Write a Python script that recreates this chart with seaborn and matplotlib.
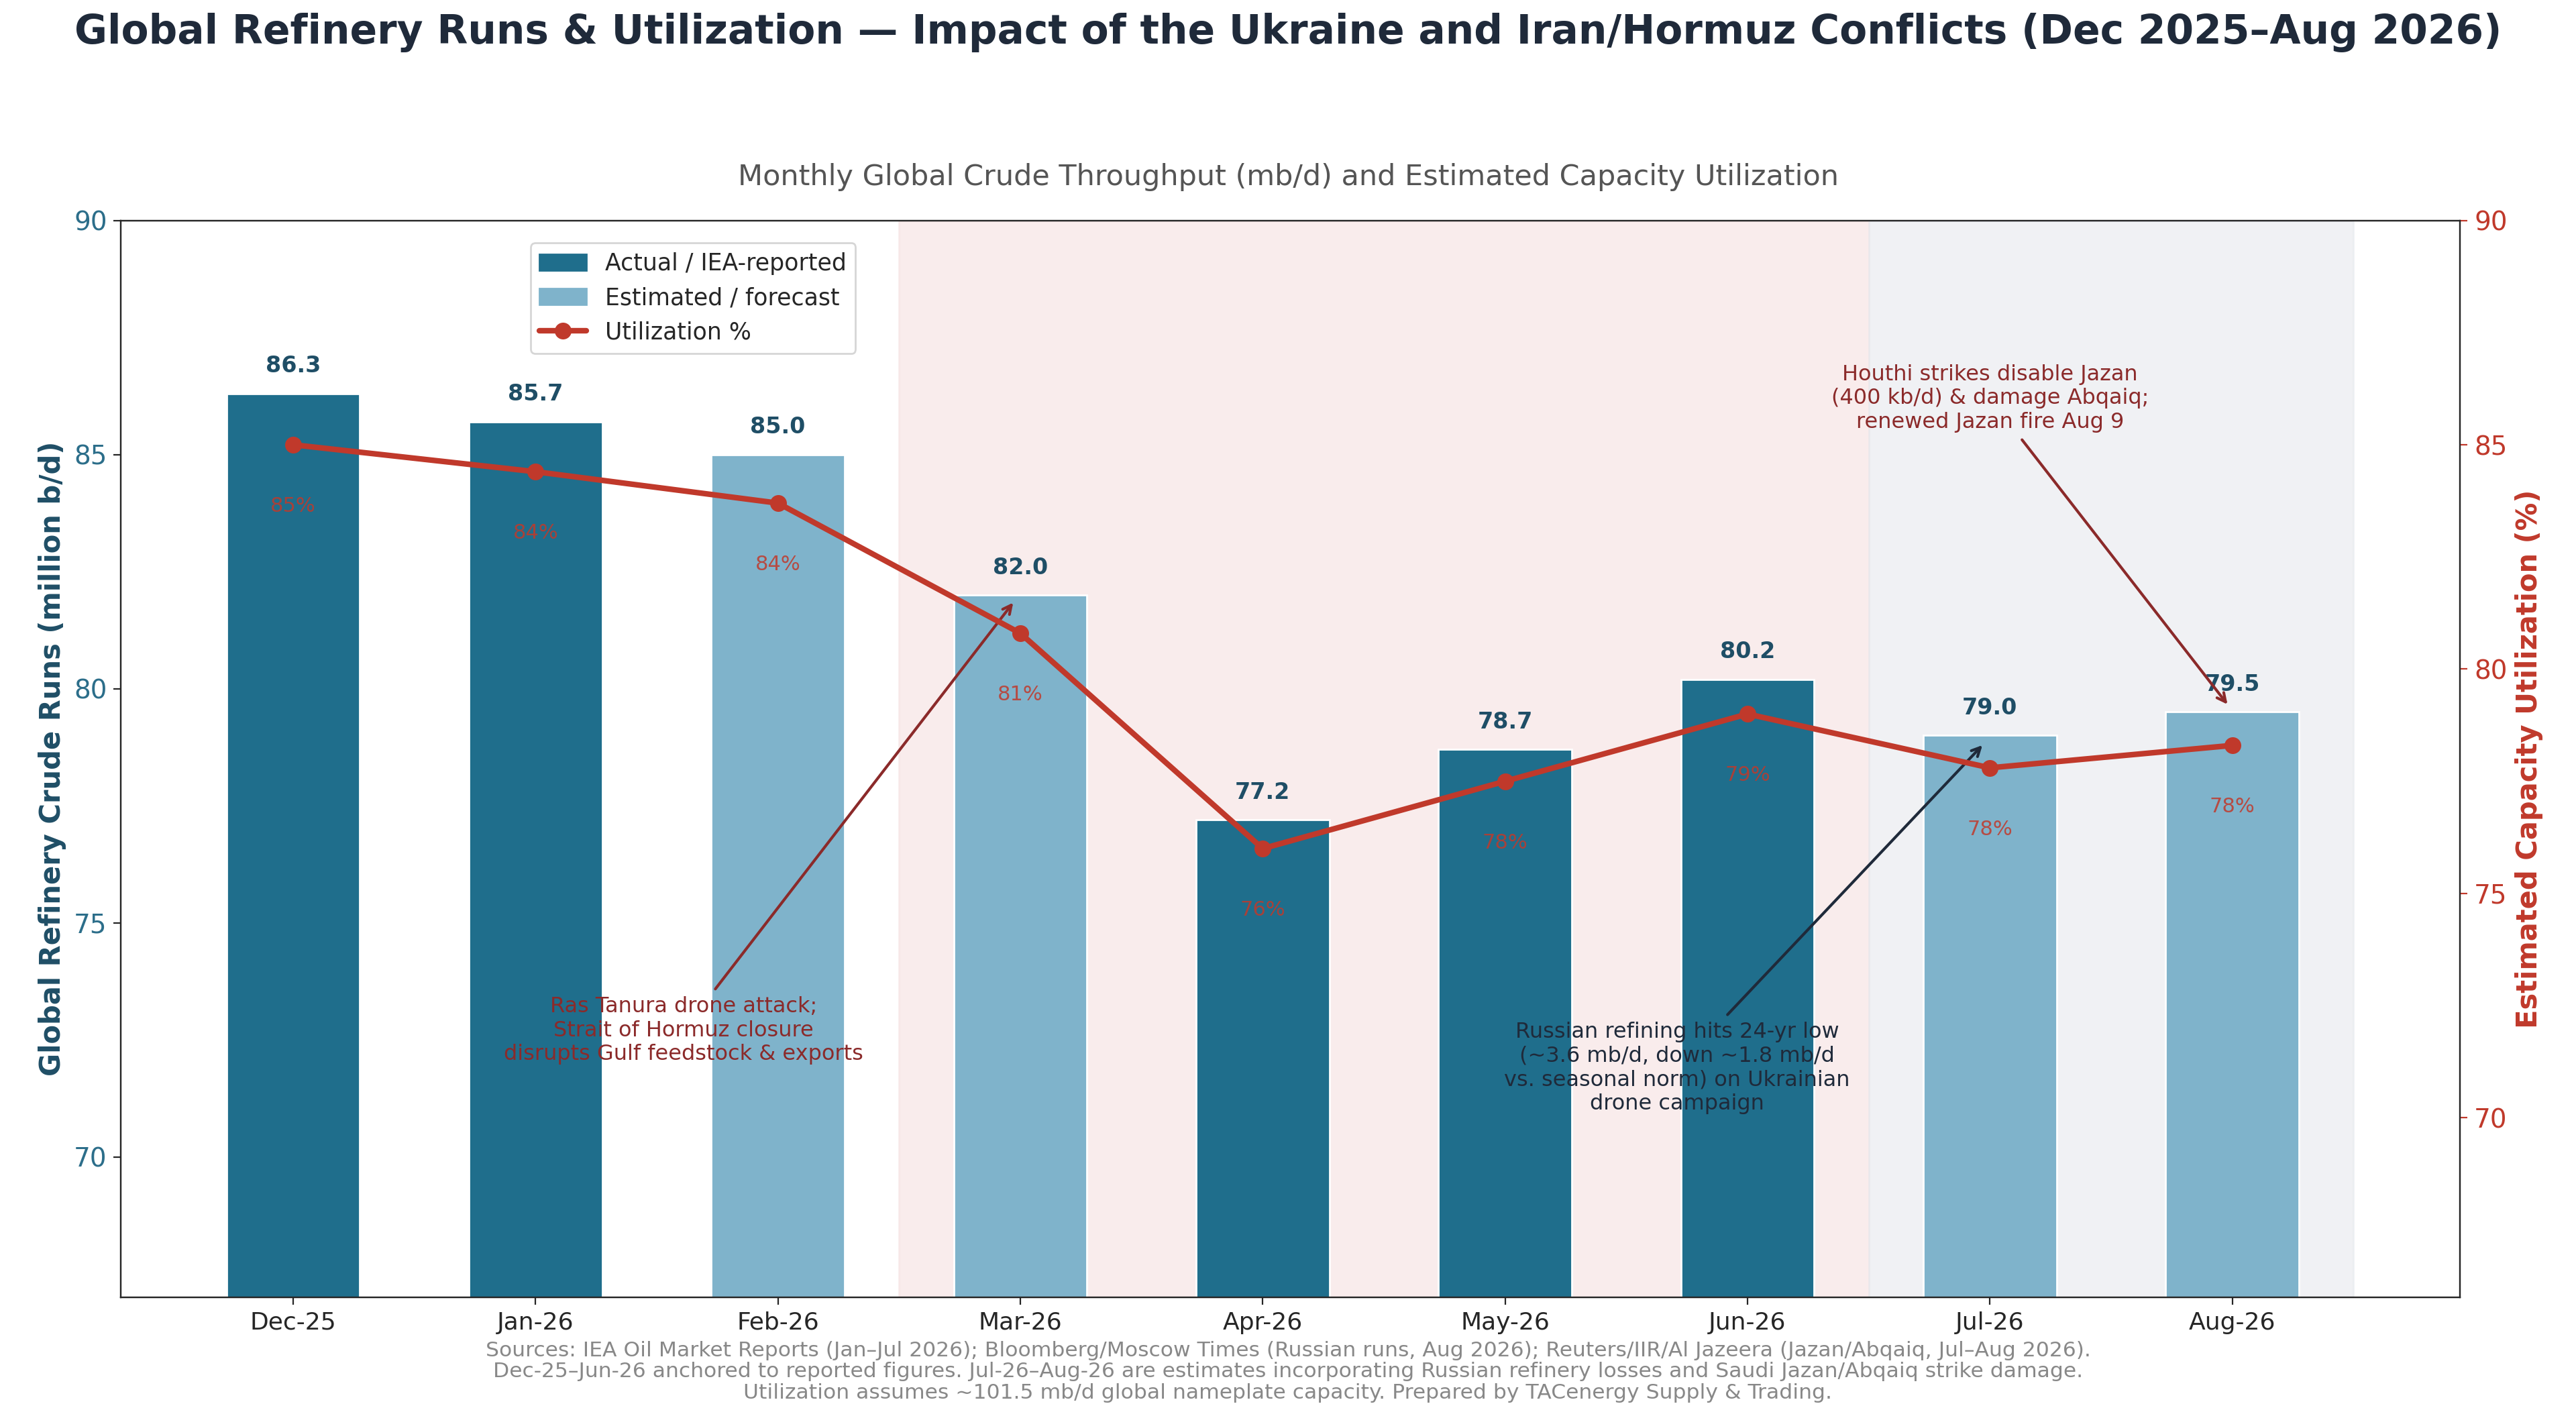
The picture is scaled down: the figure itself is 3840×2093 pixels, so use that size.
import matplotlib
matplotlib.use('Agg')
import numpy as np
import pandas as pd
import matplotlib.pyplot as plt
import seaborn as sns
from matplotlib.patches import Patch
from matplotlib.lines import Line2D

sns.set_style('white')
plt.rcParams['font.family'] = ['DejaVu Sans']

# Data
months = ['Dec-25', 'Jan-26', 'Feb-26', 'Mar-26', 'Apr-26', 'May-26', 'Jun-26', 'Jul-26', 'Aug-26']
runs = [86.3, 85.7, 85.0, 82.0, 77.2, 78.7, 80.2, 79.0, 79.5]
kind = ['Actual', 'Actual', 'Estimated', 'Estimated', 'Actual', 'Actual', 'Actual', 'Estimated', 'Estimated']
util = [85.0, 84.4, 83.7, 80.8, 76.0, 77.5, 79.0, 77.8, 78.3]

dark = '#1f6e8c'
light = '#7fb3cb'
red = '#c0392b'

df = pd.DataFrame({'month': months, 'runs': runs, 'kind': kind})

fig = plt.figure(figsize=(19.2, 10.465), dpi=200)
ax = fig.add_axes([0.047, 0.076, 0.908, 0.767])

ax.axvspan(2.5, 6.5, color='#f7e4e4', alpha=0.7, zorder=0)
ax.axvspan(6.5, 8.5, color='#e6e9ee', alpha=0.6, zorder=0)

sns.barplot(data=df, x='month', y='runs', hue='kind', palette={'Actual': dark, 'Estimated': light},
            dodge=False, width=0.55, saturation=1, ax=ax, legend=False, zorder=2)
for i, v in enumerate(runs):
    ax.text(i, v + 0.35, f'{v:.1f}', ha='center', va='bottom', fontsize=12, fontweight='bold', color='#1f4e66')

ax.set_ylim(67, 90)
ax.set_xlim(-0.71, 8.94)
ax.set_yticks([70, 75, 80, 85, 90])
ax.set_xlabel('')
ax.set_ylabel('Global Refinery Crude Runs (million b/d)', fontsize=15, fontweight='bold', color='#1f4e66')
ax.tick_params(axis='y', labelsize=14, labelcolor='#2c6e8a', length=4, left=True)
ax.tick_params(axis='x', labelsize=13, length=4, bottom=True)
for s in ax.spines.values():
    s.set_color('#222222')

ax2 = ax.twinx()
ax2.plot(range(len(months)), util, color=red, lw=3, marker='o', ms=8, zorder=5)
for i, u in enumerate(util):
    ax2.text(i, u - 1.15, f'{u:.0f}%', ha='center', va='top', fontsize=11, color=red, alpha=0.85)
ax2.set_ylim(66, 90)
ax2.set_yticks([70, 75, 80, 85, 90])
ax2.set_ylabel('Estimated Capacity Utilization (%)', fontsize=15, fontweight='bold', color=red)
ax2.tick_params(axis='y', labelsize=14, labelcolor=red, colors=red, length=4, right=True)

handles = [Patch(color=dark, label='Actual / IEA-reported'),
           Patch(color=light, label='Estimated / forecast'),
           Line2D([], [], color=red, lw=3, marker='o', ms=8, label='Utilization %')]
ax.legend(handles=handles, loc='upper left', bbox_to_anchor=(0.17, 0.99), fontsize=12.5, frameon=True)

ax.annotate('Ras Tanura drone attack;\nStrait of Hormuz closure\ndisrupts Gulf feedstock & exports',
            xy=(2.98, 81.9), xytext=(1.61, 72.7), ha='center', va='center', fontsize=11.5, color='#8b2a2a',
            arrowprops=dict(arrowstyle='->', color='#8b2a2a', lw=1.5), zorder=6)
ax.annotate('Russian refining hits 24-yr low\n(~3.6 mb/d, down ~1.8 mb/d\nvs. seasonal norm) on Ukrainian\ndrone campaign',
            xy=(6.98, 78.85), xytext=(5.71, 71.9), ha='center', va='center', fontsize=11.5, color='#1f2a3a',
            arrowprops=dict(arrowstyle='->', color='#1f2a3a', lw=1.5), zorder=6)
ax.annotate('Houthi strikes disable Jazan\n(400 kb/d) & damage Abqaiq;\nrenewed Jazan fire Aug 9',
            xy=(7.99, 79.6), xytext=(7.0, 86.2), ha='center', va='center', fontsize=11.5, color='#8b2a2a',
            arrowprops=dict(arrowstyle='->', color='#8b2a2a', lw=1.5), zorder=6)

fig.text(0.5, 0.977, 'Global Refinery Runs & Utilization \u2014 Impact of the Ukraine and Iran/Hormuz Conflicts (Dec 2025\u2013Aug 2026)',
         ha='center', va='center', fontsize=21.5, fontweight='bold', color='#1f2a3a')
fig.text(0.5, 0.874, 'Monthly Global Crude Throughput (mb/d) and Estimated Capacity Utilization',
         ha='center', va='center', fontsize=15.5, color='#555555')
fig.text(0.5, 0.023, 'Sources: IEA Oil Market Reports (Jan\u2013Jul 2026); Bloomberg/Moscow Times (Russian runs, Aug 2026); Reuters/IIR/Al Jazeera (Jazan/Abqaiq, Jul\u2013Aug 2026).\n'
         'Dec-25\u2013Jun-26 anchored to reported figures. Jul-26\u2013Aug-26 are estimates incorporating Russian refinery losses and Saudi Jazan/Abqaiq strike damage.\n'
         'Utilization assumes ~101.5 mb/d global nameplate capacity. Prepared by TACenergy Supply & Trading.',
         ha='center', va='center', fontsize=11.3, color='#888888', linespacing=1.1)

fig.savefig('out.png', dpi=200)
